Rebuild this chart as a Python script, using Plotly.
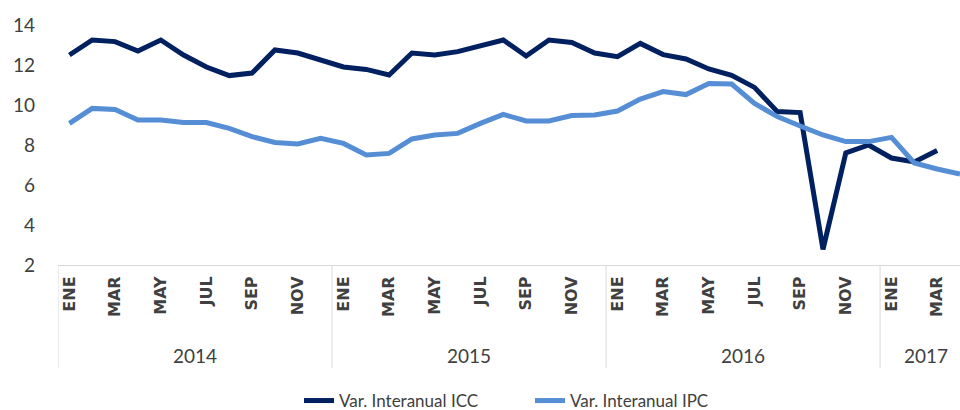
import plotly.graph_objects as go

months = ["ENE", "FEB", "MAR", "ABR", "MAY", "JUN", "JUL", "AGO", "SEP", "OCT", "NOV", "DIC"]
years = ["2014", "2015", "2016", "2017"]

icc = [12.5, 13.25, 13.17, 12.7, 13.25, 12.5, 11.9, 11.47, 11.6, 12.75, 12.6, 12.25,
       11.9, 11.78, 11.5, 12.6, 12.5, 12.67, 12.97, 13.25, 12.45, 13.25, 13.13, 12.6,
       12.42, 13.08, 12.52, 12.3, 11.8, 11.48, 10.88, 9.67, 9.62, 2.78, 7.6, 8.0,
       7.35, 7.15, 7.72]
ipc = [9.08, 9.83, 9.78, 9.25, 9.25, 9.12, 9.12, 8.83, 8.42, 8.13, 8.05, 8.33,
       8.08, 7.5, 7.58, 8.3, 8.5, 8.58, 9.08, 9.53, 9.2, 9.2, 9.47, 9.5,
       9.7, 10.3, 10.67, 10.52, 11.08, 11.05, 10.08, 9.42, 8.95, 8.5, 8.17, 8.17,
       8.38, 7.1, 6.8, 6.55]

n_cat = 40  # ENE 2014 .. ABR 2017
labels = [f"{months[i % 12]} {years[i // 12]}" for i in range(n_cat)]
x_icc = list(range(len(icc)))
x_ipc = list(range(len(ipc)))

tickvals = [i for i in range(n_cat) if i % 2 == 0]
ticktext = [months[i % 12] for i in tickvals]

GRAY = "#404040"
LINEGRAY = "#d9d9d9"

fig = go.Figure()
fig.add_trace(go.Scatter(x=x_icc, y=icc, mode="lines", name="Var. Interanual ICC",
                         line=dict(color="#002060", width=5), text=labels[:len(icc)],
                         hovertemplate="%{text}: %{y}<extra></extra>", legend="legend"))
fig.add_trace(go.Scatter(x=x_ipc, y=ipc, mode="lines", name="Var. Interanual IPC",
                         line=dict(color="#558ed5", width=5), text=labels[:len(ipc)],
                         hovertemplate="%{text}: %{y}<extra></extra>", legend="legend2"))

plot_h = 240
bottom_px = lambda px: -(px - 265) / plot_h
xpx = lambda px: (px - 58) / 902

shapes = []
for k in range(len(years)):
    xb = k * 12 - 0.5
    shapes.append(dict(type="line", xref="x", yref="paper", x0=xb, x1=xb,
                       y0=0, y1=bottom_px(368), line=dict(color=LINEGRAY, width=1)))

annotations = []
for k, yr in enumerate(years):
    start = k * 12 - 0.5
    end = min((k + 1) * 12, n_cat) - 0.5
    annotations.append(dict(x=(start + end) / 2, y=bottom_px(355), xref="x", yref="paper",
                            text=yr, showarrow=False, xanchor="center", yanchor="middle",
                            font=dict(family="Lato, sans-serif", size=19, color=GRAY)))

legend_font = dict(family="Lato, sans-serif", size=17, color=GRAY)

fig.update_layout(
    width=960, height=410,
    margin=dict(l=58, r=0, t=25, b=145, autoexpand=False),
    paper_bgcolor="white", plot_bgcolor="white",
    showlegend=True,
    legend=dict(orientation="h", x=xpx(299), xanchor="left",
                y=bottom_px(401), yanchor="middle", font=legend_font, itemwidth=30),
    legend2=dict(orientation="h", x=xpx(530), xanchor="left",
                 y=bottom_px(401), yanchor="middle", font=legend_font, itemwidth=30),
    xaxis=dict(range=[-0.5, 39.0], tickmode="array", tickvals=tickvals, ticktext=ticktext,
               tickangle=-90, showgrid=False, zeroline=False, showline=True,
               linecolor=LINEGRAY, linewidth=1, ticks="", ticklabelstandoff=4,
               automargin=False,
               tickfont=dict(family="DejaVu Sans", size=16, color=GRAY, weight="bold")),
    yaxis=dict(range=[2, 14], tickmode="linear", tick0=2, dtick=2, showgrid=False,
               zeroline=False, showline=False, ticks="", ticklabelstandoff=22,
               automargin=False,
               tickfont=dict(family="Lato, sans-serif", size=19, color=GRAY)),
    shapes=shapes,
    annotations=annotations,
)

fig.write_html("out.html", config={"displayModeBar": False},
               post_script="document.body.style.margin='0';")
